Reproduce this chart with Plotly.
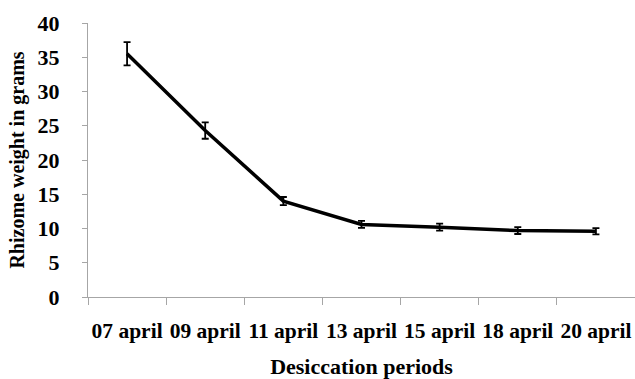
import plotly.graph_objects as go

periods = ["07 april", "09 april", "11 april", "13 april", "15 april", "18 april", "20 april"]
weight = [35.5, 24.3, 14.0, 10.6, 10.2, 9.7, 9.6]
weight_err = [1.7, 1.2, 0.6, 0.5, 0.5, 0.5, 0.45]

font_family = "Liberation Serif"
axis_grey = "#a6a6a6"

fig = go.Figure(
    go.Scatter(
        x=periods,
        y=weight,
        mode="lines",
        line=dict(color="black", width=3.5),
        error_y=dict(type="data", array=weight_err, visible=True,
                     color="black", thickness=1.8, width=3.5),
        showlegend=False,
    )
)

fig.update_layout(
    width=635, height=379,
    margin=dict(l=88, r=0, t=23, b=82),
    paper_bgcolor="white", plot_bgcolor="white",
    font=dict(family=font_family, color="black"),
)

fig.update_xaxes(
    type="category",
    range=[-0.5, 6.5],
    tickson="boundaries",
    tickangle=0,
    ticks="outside", ticklen=7, tickcolor=axis_grey, tickwidth=1,
    showline=True, linecolor=axis_grey, linewidth=1,
    showgrid=False, zeroline=False,
    ticklabelstandoff=14,
    tickfont=dict(family=font_family, size=21.5, color="black", weight="bold"),
    title=dict(text="<b>Desiccation periods</b>", font=dict(family=font_family, size=22), standoff=16),
    automargin=False,
)

fig.update_yaxes(
    range=[0, 40], dtick=5,
    ticks="outside", ticklen=5, tickcolor=axis_grey, tickwidth=1,
    showline=True, linecolor=axis_grey, linewidth=1,
    showgrid=False, zeroline=False,
    ticklabelstandoff=18,
    tickfont=dict(family=font_family, size=22, color="black", weight="bold"),
    title=dict(text="<b>Rhizome weight in grams</b>", font=dict(family=font_family, size=20), standoff=7),
    automargin=False,
)

fig.write_html("out.html")
